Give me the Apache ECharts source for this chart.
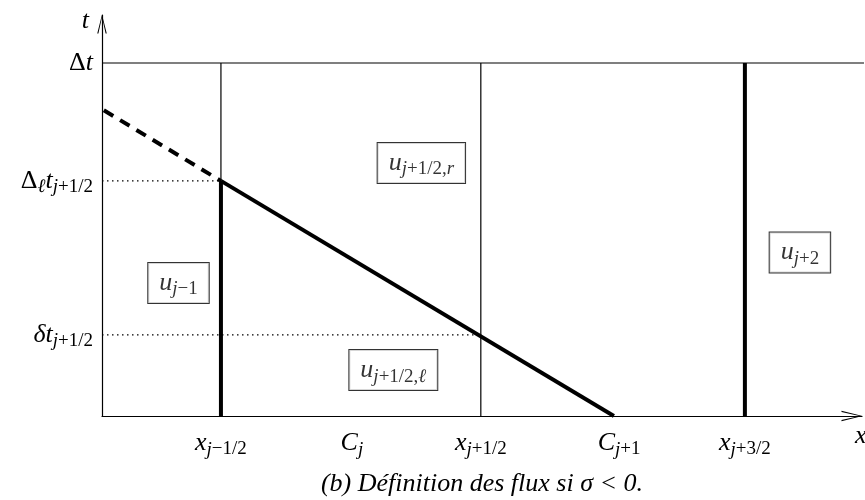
<!DOCTYPE html>
<html>
<head>
<meta charset="utf-8">
<script src="https://cdn.jsdelivr.net/npm/echarts@6/dist/echarts.min.js"></script>
<style>
  html, body { margin: 0; padding: 0; background: #fff; }
  #chart { width: 865px; height: 500px; }
</style>
</head>
<body>
<div id="chart"></div>
<script>
// x measured in cell widths (x_{j-1/2} = 1), t measured in units of Δt
const xRange = [0.546, 3.447];
const tRange = [0, 1.136];
const topLineEnd = 3.458;
const faceX = [1, 1.992, 3];        // x_{j-1/2}, x_{j+1/2}, x_{j+3/2}
const deltaT = 1;                   // Δt
const deltaLT = 0.666;              // Δℓ t_{j+1/2}
const smallDeltaT = 0.23;           // δ t_{j+1/2}
const waveFoot = 2.5;               // where the wave line reaches t = 0
const dashStart = [0.553, 0.866];   // start of the dashed extension

const xTickValues = [1, 1.5, 1.992, 2.52, 3];
const xTickLabels = [
  '{m|x}{s|j}{n|−1/2}',
  '{m|C}{s|j}',
  '{m|x}{s|j}{n|+1/2}',
  '{m|C}{s|j}{n|+1}',
  '{m|x}{s|j}{n|+3/2}'
];
const tTickValues = [0.23, 0.666, 1];
const tTickLabels = [
  '{m|δt}{s|j}{n|+1/2}',
  '{up|Δ}{s|ℓ}{m|t}{s|j}{n|+1/2}',
  '{up|Δ}{m|t}'
];

const stateNames = [
  '{m|u}{s|j}{n|+1/2,}{s|r}',
  '{m|u}{s|j}{n|+1/2,}{s|ℓ}',
  '{m|u}{s|j}{n|−1}',
  '{m|u}{s|j}{n|+2}'
];
const stateX = [1.765, 1.658, 0.838, 3.21];
const stateT = [0.717, 0.130, 0.377, 0.463];

const caption = '(b) Définition des flux si σ < 0.';

const FONT = "'Liberation Serif', serif";
const rich = {
  m:  { fontFamily: FONT, fontStyle: 'italic', fontSize: 26, lineHeight: 32, color: '#000' },
  up: { fontFamily: FONT, fontSize: 26, lineHeight: 32, color: '#000' },
  s:  { fontFamily: FONT, fontStyle: 'italic', fontSize: 19, lineHeight: 15, verticalAlign: 'bottom', color: '#000' },
  n:  { fontFamily: FONT, fontSize: 19, lineHeight: 15, verticalAlign: 'bottom', color: '#000' }
};

function pick(values, labels) {
  return v => {
    for (let i = 0; i < values.length; i++) {
      if (Math.abs(v - values[i]) < 1e-6) return labels[i];
    }
    return '';
  };
}

const thin = { color: '#000', width: 1.2 };
const thick = { color: '#000', width: 4 };
const dotted = { color: '#000', width: 1.3, type: [1.5, 3.5] };
const dashed = { color: '#000', width: 4, type: [11, 8] };

function seg(points, style) {
  return {
    type: 'line', data: points, symbol: 'none', lineStyle: style,
    silent: true, clip: false, z: 3
  };
}

const chevron = 'path://M5,0L10,20L8.8,20L5,3L1.2,20L0,20Z';

const chart = echarts.init(document.getElementById('chart'));
chart.setOption({
  animation: false,
  title: {
    text: caption, left: 477, top: 466, textAlign: 'center',
    textStyle: { fontFamily: FONT, fontStyle: 'italic', fontWeight: 'normal', fontSize: 26, color: '#000' }
  },
  grid: { left: 102, right: 3, top: 15, bottom: 84, outerBoundsMode: 'none' },
  xAxis: {
    type: 'value', min: xRange[0], max: xRange[1],
    name: 'x', nameLocation: 'end', nameGap: -7,
    nameTextStyle: { fontFamily: FONT, fontStyle: 'italic', fontSize: 26, color: '#000',
                     align: 'left', verticalAlign: 'top', padding: [7, 0, 0, 0] },
    axisLine: { show: true, onZero: false, lineStyle: { color: '#000', width: 1.2 },
                symbol: ['none', chevron], symbolSize: [11, 21], symbolOffset: [0, -10] },
    axisTick: { show: false },
    splitLine: { show: false },
    axisLabel: { customValues: xTickValues, formatter: pick(xTickValues, xTickLabels), rich: rich, margin: 11 }
  },
  yAxis: {
    type: 'value', min: tRange[0], max: tRange[1],
    name: 't', nameLocation: 'end', nameGap: -6,
    nameTextStyle: { fontFamily: FONT, fontStyle: 'italic', fontSize: 26, color: '#000',
                     align: 'right', verticalAlign: 'middle', padding: [0, 13, 0, 0] },
    axisLine: { show: true, onZero: false, lineStyle: { color: '#000', width: 1.2 },
                symbol: ['none', chevron], symbolSize: [10, 19], symbolOffset: [0, -9] },
    axisTick: { show: false },
    splitLine: { show: false },
    axisLabel: { customValues: tTickValues, formatter: pick(tTickValues, tTickLabels), rich: rich, margin: 9 }
  },
  series: [
    seg([[xRange[0], deltaT], [topLineEnd, deltaT]], thin),
    seg([[faceX[0], deltaT], [faceX[0], deltaLT]], thin),
    seg([[faceX[1], deltaT], [faceX[1], 0]], thin),
    seg([[xRange[0], deltaLT], [faceX[0], deltaLT]], dotted),
    seg([[xRange[0], smallDeltaT], [faceX[1], smallDeltaT]], dotted),
    seg([dashStart, [faceX[0], deltaLT]], dashed),
    seg([[faceX[0], deltaLT], [waveFoot, 0]], thick),
    seg([[faceX[0], deltaLT], [faceX[0], 0]], thick),
    seg([[faceX[2], deltaT], [faceX[2], 0]], thick),
    {
      type: 'scatter', symbolSize: 1, itemStyle: { color: 'transparent' }, silent: true, z: 5,
      data: stateX.map((x, i) => [x, stateT[i]]),
      label: {
        show: true, position: 'inside',
        formatter: p => stateNames[p.dataIndex],
        rich: rich, backgroundColor: '#fff',
        borderColor: '#000', borderWidth: 1, padding: [4, 11]
      }
    }
  ]
});
</script>
</body>
</html>
